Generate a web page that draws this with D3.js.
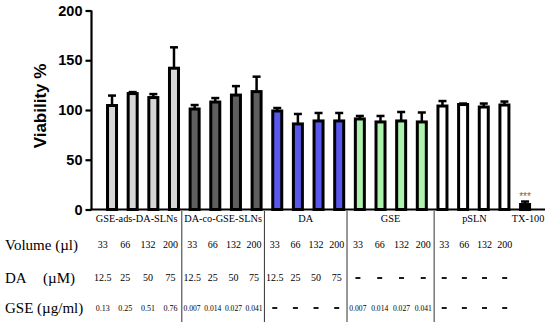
<!DOCTYPE html>
<html>
<head>
<meta charset="utf-8">
<script src="https://cdn.jsdelivr.net/npm/d3@7"></script>
<style>
  body { margin: 0; background: #fff; }
  svg { display: block; }
</style>
</head>
<body>
<div id="chart"></div>
<script>
// groups, bar fill per group
var groups = ["GSE-ads-DA-SLNs", "DA-co-GSE-SLNs", "DA", "GSE", "pSLN", "TX-100"];
var groupFills = ["#d6d6d6", "#5f5f5f", "#5858ee", "#acf2ac", "#ffffff", "#000000"];
var groupSizes = [4, 4, 4, 4, 4, 1];

// viability % (mean) and error (sd), one per bar
var viability = [104.5, 116.5, 112.5, 142, 101, 108, 115, 118.5, 99, 86, 89, 89, 91, 88, 89, 88, 104, 105.5, 103, 105, 5];
var errors    = [10, 1.5, 3.5, 21, 4, 4, 9, 15, 3, 10, 8, 8, 3, 6, 9, 9.5, 5, 1, 3.5, 3.5, 3];

// table rows
var rowLabels = ["Volume (\u00b5l)", "DA", "GSE (\u00b5g/ml)"];
var volumeVals = ["33", "66", "132", "200"];
var daVals = [["12.5", "25", "50", "75"], ["12.5", "25", "50", "75"], ["12.5", "25", "50", "75"], ["-", "-", "-", "-"], ["-", "-", "-", "-"]];
var gseVals = [["0.13", "0.25", "0.51", "0.76"], ["0.007", "0.014", "0.027", "0.041"], ["-", "-", "-", "-"], ["0.007", "0.014", "0.027", "0.041"], ["-", "-", "-", "-"]];
var yTicks = [0, 50, 100, 150, 200];

var W = 550, H = 327;
var svg = d3.select("#chart").append("svg").attr("width", W).attr("height", H);

// build bars from the group arrays
var bars = [];
groupSizes.forEach(function(n, g) {
  for (var k = 0; k < n; k++) bars.push({ g: g, k: k, i: bars.length });
});
bars.forEach(function(b) { b.v = viability[b.i]; b.e = errors[b.i]; });

var x = d3.scaleBand().domain(bars.map(function(b) { return b.i; }))
  .range([97.2, 539.9]).paddingInner(0.564).paddingOuter(0.5);
var y = d3.scaleLinear().domain([0, 200]).range([209.5, 10.5]);
var bw = x.bandwidth();
function cx(i) { return x(i) + bw / 2; }

var axisX0 = 91.5, axisX1 = 545;

// y axis
var yAxis = svg.append("g").attr("transform", "translate(" + axisX0 + ",0)")
  .call(d3.axisLeft(y).tickValues(yTicks).tickSize(6).tickPadding(3));
yAxis.select(".domain").attr("stroke-width", 2.2).attr("d", "M0," + y(200) + "V" + y(0));
yAxis.selectAll(".tick line").attr("stroke-width", 2.2);
yAxis.selectAll(".tick text")
  .style("font-family", "'Liberation Sans', Arial, sans-serif")
  .style("font-weight", "bold").style("font-size", "14.5px").attr("fill", "#000");

svg.append("text")
  .attr("transform", "translate(46,106) rotate(-90)")
  .attr("text-anchor", "middle")
  .style("font-family", "'Liberation Sans', Arial, sans-serif")
  .style("font-weight", "bold").style("font-size", "17px")
  .text("Viability %");

// bars
var gBars = svg.append("g");
gBars.selectAll("rect").data(bars).enter().append("rect")
  .attr("x", function(d) { return x(d.i); })
  .attr("y", function(d) { return y(d.v); })
  .attr("width", bw)
  .attr("height", function(d) { return y(0) - y(d.v); })
  .attr("fill", function(d) { return groupFills[d.g]; })
  .attr("stroke", "#000").attr("stroke-width", 3);

// error bars (upper only)
var gErr = svg.append("g").attr("stroke", "#000");
gErr.selectAll("line.v").data(bars).enter().append("line").attr("class", "v")
  .attr("x1", function(d) { return cx(d.i); }).attr("x2", function(d) { return cx(d.i); })
  .attr("y1", function(d) { return y(d.v); }).attr("y2", function(d) { return y(d.v + d.e); })
  .attr("stroke-width", 2.5);
gErr.selectAll("line.c").data(bars).enter().append("line").attr("class", "c")
  .attr("x1", function(d) { return cx(d.i) - 4; }).attr("x2", function(d) { return cx(d.i) + 4; })
  .attr("y1", function(d) { return y(d.v + d.e); }).attr("y2", function(d) { return y(d.v + d.e); })
  .attr("stroke-width", 2.5);

// significance stars over TX-100
var last = bars[bars.length - 1];
svg.append("text").attr("x", cx(last.i)).attr("y", y(last.v + last.e) - 2)
  .attr("text-anchor", "middle").attr("fill", "#666")
  .style("font-family", "'Liberation Sans', Arial, sans-serif").style("font-size", "10px")
  .text("***");

// x axis line
svg.append("line").attr("x1", axisX0 - 1).attr("x2", axisX1)
  .attr("y1", y(0)).attr("y2", y(0)).attr("stroke", "#000").attr("stroke-width", 2.2);

// table: separators between groups
var firstIdx = [], lastIdx = [];
bars.forEach(function(b) {
  if (b.k === 0) firstIdx[b.g] = b.i;
  lastIdx[b.g] = b.i;
});
var bounds = [axisX0];
for (var g = 0; g < 4; g++) {
  var m = (cx(lastIdx[g]) + cx(firstIdx[g + 1])) / 2;
  bounds.push(g < 3 ? m - 2.5 : m + 2);
}
bounds.push(cx(firstIdx[5]) - x.step() / 2);

var serif = "'Liberation Serif', 'DejaVu Serif', serif";
svg.selectAll("line.sep").data(bounds.slice(1, 5)).enter().append("line")
  .attr("class", "sep")
  .attr("x1", function(d) { return d; }).attr("x2", function(d) { return d; })
  .attr("y1", 211).attr("y2", 322)
  .attr("stroke", "#333").attr("stroke-width", 1);

// group labels
svg.selectAll("text.grp").data(groups).enter().append("text")
  .attr("class", "grp")
  .attr("x", function(d, i) { return i < 5 ? (bounds[i] + bounds[i + 1]) / 2 : cx(firstIdx[5]) + 3; })
  .attr("y", 221.5)
  .attr("text-anchor", "middle")
  .style("font-family", serif).style("font-size", "10.3px")
  .text(function(d) { return d; });

// row labels
var rowY = [245, 278, 308];
svg.append("text").attr("x", 5).attr("y", rowY[0] + 4.5)
  .style("font-family", serif).style("font-size", "15px").text(rowLabels[0]);
svg.append("text").attr("x", 5).attr("y", rowY[1] + 4.5)
  .style("font-family", serif).style("font-size", "15px").text(rowLabels[1]);
svg.append("text").attr("x", 43).attr("y", rowY[1] + 4.5)
  .style("font-family", serif).style("font-size", "15px").text("(\u00b5M)");
svg.append("text").attr("x", 5).attr("y", rowY[2] + 4.5)
  .style("font-family", serif).style("font-size", "15px").text(rowLabels[2]);

// cells
var cells = [];
for (var gi = 0; gi < 5; gi++) {
  var cw = (bounds[gi + 1] - bounds[gi]) / 4;
  for (var k = 0; k < 4; k++) {
    var xc = bounds[gi] + cw * (k + 0.5);
    cells.push({ x: xc, y: rowY[0], t: volumeVals[k], fs: 10 });
    cells.push({ x: xc, y: rowY[1], t: daVals[gi][k], fs: 10 });
    cells.push({ x: xc, y: rowY[2], t: gseVals[gi][k], fs: gseVals[gi][k].length > 4 ? 7.6 : 8 });
  }
}
var cellSel = svg.selectAll("g.cell").data(cells).enter().append("g").attr("class", "cell");
cellSel.filter(function(d) { return d.t !== "-"; }).append("text")
  .attr("x", function(d) { return d.x; })
  .attr("y", function(d) { return d.y + 3.2; })
  .attr("text-anchor", "middle")
  .style("font-family", serif)
  .style("font-size", function(d) { return d.fs + "px"; })
  .text(function(d) { return d.t; });
// the dashes are drawn as short thick strokes
cellSel.filter(function(d) { return d.t === "-"; }).append("line")
  .attr("x1", function(d) { return d.x - 2.5; }).attr("x2", function(d) { return d.x + 2.5; })
  .attr("y1", function(d) { return d.y; }).attr("y2", function(d) { return d.y; })
  .attr("stroke", "#000").attr("stroke-width", 1.8);
</script>
</body>
</html>
